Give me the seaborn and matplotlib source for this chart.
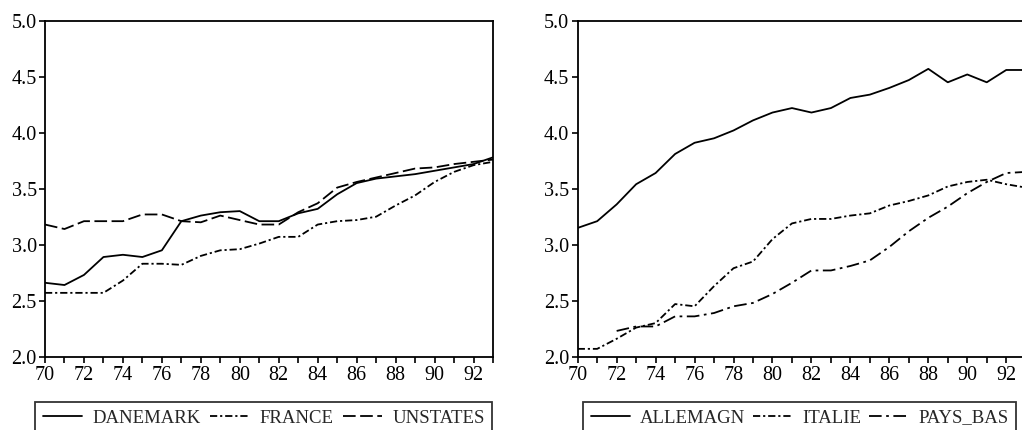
import numpy as np
import pandas as pd
import matplotlib
matplotlib.use("Agg")
import matplotlib.pyplot as plt
import seaborn as sns

# ---------------- data ----------------
years = list(range(70, 94))

danemark = [2.66, 2.64, 2.73, 2.89, 2.91, 2.89, 2.95, 3.21, 3.26, 3.29, 3.30, 3.21,
            3.21, 3.28, 3.32, 3.45, 3.55, 3.59, 3.61, 3.63, 3.66, 3.69, 3.72, 3.78]
france = [2.57, 2.57, 2.57, 2.57, 2.68, 2.83, 2.83, 2.82, 2.90, 2.95, 2.96, 3.01,
          3.07, 3.07, 3.18, 3.21, 3.22, 3.25, 3.35, 3.44, 3.56, 3.65, 3.71, 3.74]
unstates = [3.18, 3.14, 3.21, 3.21, 3.21, 3.27, 3.27, 3.21, 3.20, 3.26, 3.22, 3.18,
            3.18, 3.29, 3.37, 3.51, 3.56, 3.60, 3.64, 3.68, 3.69, 3.72, 3.74, 3.76]

allemagn = [3.15, 3.21, 3.36, 3.54, 3.64, 3.81, 3.91, 3.95, 4.02, 4.11, 4.18, 4.22,
            4.18, 4.22, 4.31, 4.34, 4.40, 4.47, 4.57, 4.45, 4.52, 4.45, 4.56, 4.56]
italie = [2.07, 2.07, 2.16, 2.26, 2.30, 2.47, 2.45, 2.63, 2.79, 2.85, 3.05, 3.19,
          3.23, 3.23, 3.26, 3.28, 3.35, 3.39, 3.44, 3.52, 3.56, 3.58, 3.54, 3.51]
pays_bas_years = list(range(72, 94))
pays_bas = [2.23, 2.27, 2.27, 2.36, 2.36, 2.39, 2.45, 2.48, 2.56, 2.66, 2.77, 2.77,
            2.81, 2.86, 2.98, 3.12, 3.24, 3.34, 3.46, 3.56, 3.64, 3.65]

left_names = ["DANEMARK", "FRANCE", "UNSTATES"]
right_names = ["ALLEMAGN", "ITALIE", "PAYS_BAS"]

# ---------------- style ----------------
sns.set_theme(style="ticks")
plt.rcParams["font.family"] = ["Liberation Serif", "DejaVu Serif"]
plt.rcParams.update({
    "axes.linewidth": 1.3,
    "xtick.major.width": 1.2,
    "ytick.major.width": 1.2,
    "xtick.minor.width": 1.2,
    "xtick.major.size": 4,
    "xtick.minor.size": 4,
    "ytick.major.size": 4,
    "xtick.color": "black",
    "ytick.color": "black",
    "axes.edgecolor": "black",
    "xtick.labelsize": 14.5,
    "ytick.labelsize": 14.5,
})

def long_df(names, series_years, series_vals):
    rows = []
    for n, ys, vs in zip(names, series_years, series_vals):
        for y, v in zip(ys, vs):
            rows.append({"year": y, "value": v, "country": n})
    return pd.DataFrame(rows)

df_left = long_df(left_names, [years, years, years], [danemark, france, unstates])
df_right = long_df(right_names, [years, years, pays_bas_years], [allemagn, italie, pays_bas])

dash_left = {"DANEMARK": "", "FRANCE": (4, 1.6, 1.2, 1.6), "UNSTATES": (7, 2.5)}
dash_right = {"ALLEMAGN": "", "ITALIE": (4, 1.6, 1.2, 1.6), "PAYS_BAS": (7, 2.5, 1.5, 2.5)}

W, H = 1022, 430
fig = plt.figure(figsize=(W / 100, H / 100), dpi=100)

ax_w = 448 / W
ax_b = 1 - 356.7 / H
ax_h = (356.7 - 20.7) / H
ax1 = fig.add_axes([45 / W, ax_b, ax_w, ax_h])
ax2 = fig.add_axes([577.7 / W, ax_b, ax_w, ax_h])

for ax, df, names, dashes, lx0, cs in [
    (ax1, df_left, left_names, dash_left, 35, 0.5),
    (ax2, df_right, right_names, dash_right, 583, 0.4),
]:
    sns.lineplot(data=df, x="year", y="value", style="country", style_order=names,
                 dashes=dashes, color="black", linewidth=1.3, ax=ax, legend=False,
                 estimator=None, sort=True)
    ax.set_xlim(70, 93)
    ax.set_ylim(2.0, 5.0)
    ax.set_xticks(range(70, 93, 2))
    ax.set_xticks(range(70, 94), minor=True)
    ax.set_yticks([2.0, 2.5, 3.0, 3.5, 4.0, 4.5, 5.0])
    ax.set_yticklabels(["2.0", "2.5", "3.0", "3.5", "4.0", "4.5", "5.0"])
    ax.tick_params(axis="x", which="both", direction="out", pad=3)
    ax.tick_params(axis="y", direction="out", pad=2)
    ax.set_xlabel("")
    ax.set_ylabel("")
    for s in ax.spines.values():
        s.set_visible(True)
        s.set_color("black")
    ax.grid(False)

    handles = ax.get_lines()[:3]
    leg = fig.legend(handles, names, loc="upper left",
                     bbox_to_anchor=(lx0 / W, 1 - 402 / H),
                     ncol=3, frameon=True, fancybox=False,
                     edgecolor="black", fontsize=13.5, handlelength=2.1,
                     handletextpad=0.55, columnspacing=cs, borderpad=0.4,
                     borderaxespad=0.0)
    leg.get_frame().set_linewidth(1.3)

fig.savefig("out.png", dpi=100)
